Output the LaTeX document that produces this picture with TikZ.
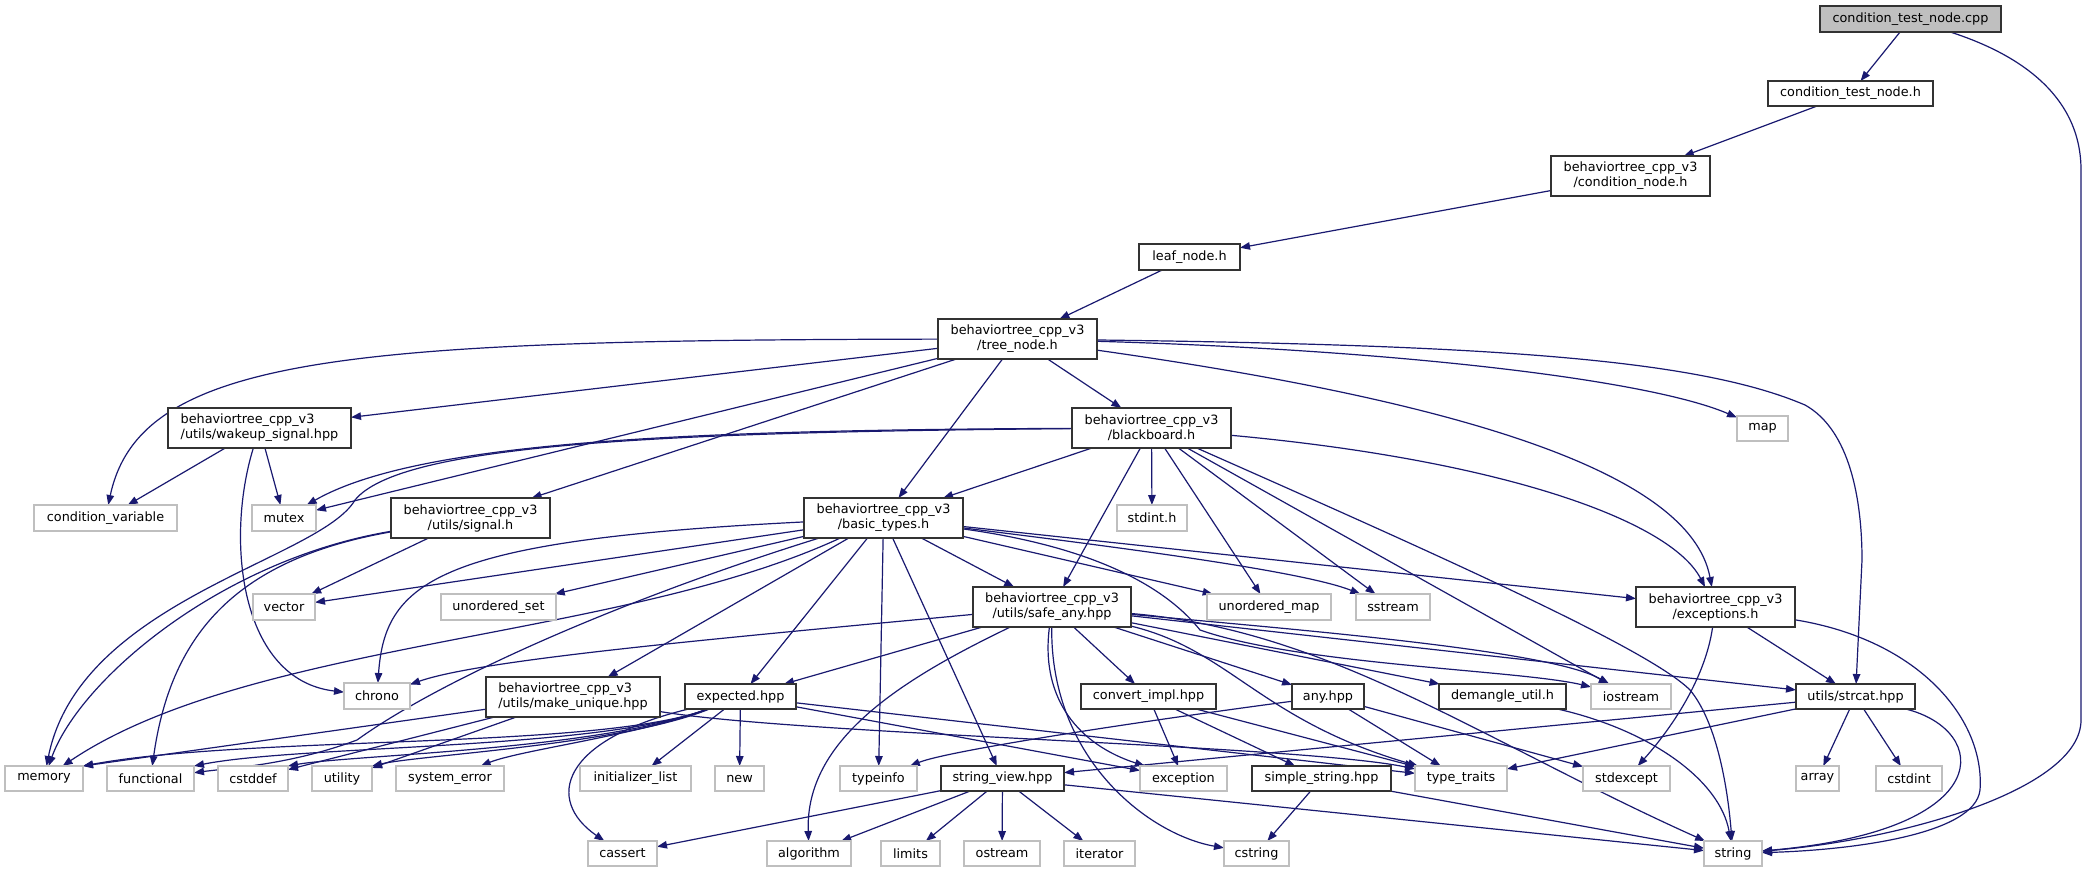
\documentclass[tikz,border=0pt]{standalone}
\usepackage{fontspec}
\setmainfont{DejaVu Sans}
\usetikzlibrary{arrows.meta}
\pgfdeclarelayer{back}
\pgfdeclarelayer{bg}
\pgfsetlayers{back,bg,main}
\definecolor{edgecol}{HTML}{191970}
\definecolor{grayline}{HTML}{BFBFBF}
\definecolor{docline}{HTML}{333333}
\begin{document}
\begin{tikzpicture}[x=1pt,y=-1pt,
  box/.style={rectangle,inner sep=0pt,outer sep=0pt,line width=1.2pt,font=\fontsize{12.8}{15}\selectfont,align=center},
  doc/.style={box,draw=docline,fill=white},
  sys/.style={box,draw=grayline,fill=white},
  root/.style={box,draw=docline,fill=grayline},
  bw/.style={minimum width=#1pt},
  bh/.style={minimum height=#1pt},
  edge/.style={draw=edgecol,line width=1.2pt,-{Triangle[length=10pt,width=7.5pt]}}
]
\useasboundingbox (0,0) rectangle (2087,872);
\begin{pgfonlayer}{back}
\fill[white] (0,0) rectangle (2087,872);
\end{pgfonlayer}

% ---- documented / own headers
\node[root,bw=181,bh=26] (cpp) at (1910.5,19) {condition\_test\_node.cpp};
\node[doc,bw=165,bh=25] (ctnh) at (1850.5,93.5) {condition\_test\_node.h};
\node[doc,bw=159,bh=40] (cond) at (1630.5,176) {behaviortree\_cpp\_v3\\/condition\_node.h};
\node[doc,bw=101,bh=26] (leaf) at (1189.5,257) {leaf\_node.h};
\node[doc,bw=159,bh=40] (tree) at (1017.5,339) {behaviortree\_cpp\_v3\\/tree\_node.h};
\node[doc,bw=159,bh=40] (blackboard) at (1151.5,428) {behaviortree\_cpp\_v3\\/blackboard.h};
\node[doc,bw=183,bh=40,align=left] (wakeup) at (259.5,428) {behaviortree\_cpp\_v3\\/utils/wakeup\_signal.hpp};
\node[doc,bw=159,bh=40] (signal) at (470.5,518) {behaviortree\_cpp\_v3\\/utils/signal.h};
\node[doc,bw=159,bh=40] (basic) at (883.5,518) {behaviortree\_cpp\_v3\\/basic\_types.h};
\node[doc,bw=158,bh=40] (safeany) at (1052,607) {behaviortree\_cpp\_v3\\/utils/safe\_any.hpp};
\node[doc,bw=159,bh=40] (exceptions) at (1715.5,607) {behaviortree\_cpp\_v3\\/exceptions.h};
\node[doc,bw=174,bh=40,align=left] (makeunique) at (573,697) {behaviortree\_cpp\_v3\\/utils/make\_unique.hpp};
\node[doc,bw=111,bh=25] (expected) at (740.5,696.5) {expected.hpp};
\node[doc,bw=135,bh=25] (convert) at (1148.5,696.5) {convert\_impl.hpp};
\node[doc,bw=72,bh=25] (any) at (1328,696.5) {any.hpp};
\node[doc,bw=127,bh=25] (demangle) at (1502.5,696.5) {demangle\_util.h};
\node[doc,bw=119,bh=25] (strcat) at (1855.5,696.5) {utils/strcat.hpp};
\node[doc,bw=123,bh=25] (stringview) at (1002.5,778.5) {string\_view.hpp};
\node[doc,bw=139,bh=25] (simplestring) at (1321.5,778.5) {simple\_string.hpp};

% ---- system headers
\node[sys,bw=51,bh=25] (map) at (1762.5,428.5) {map};
\node[sys,bw=143,bh=26] (condvar) at (105.5,518) {condition\_variable};
\node[sys,bw=64,bh=26] (mutex) at (284,518) {mutex};
\node[sys,bw=70,bh=26] (stdinth) at (1152,518) {stdint.h};
\node[sys,bw=62,bh=26] (vector) at (284,607) {vector};
\node[sys,bw=115,bh=26] (uset) at (498.5,607) {unordered\_set};
\node[sys,bw=124,bh=26] (umap) at (1269,607) {unordered\_map};
\node[sys,bw=74,bh=26] (sstream) at (1393,607) {sstream};
\node[sys,bw=66,bh=26] (chrono) at (377,696) {chrono};
\node[sys,bw=80,bh=25] (iostream) at (1631,696.5) {iostream};
\node[sys,bw=78,bh=25] (memory) at (44,778.5) {memory};
\node[sys,bw=87,bh=25] (functional) at (150.5,778.5) {functional};
\node[sys,bw=70,bh=25] (cstddef) at (253,778.5) {cstddef};
\node[sys,bw=60,bh=25] (utility) at (342,778.5) {utility};
\node[sys,bw=108,bh=25] (systemerror) at (450,778.5) {system\_error};
\node[sys,bw=111,bh=25] (initlist) at (635.5,778.5) {initializer\_list};
\node[sys,bw=49,bh=25] (new) at (739.5,778.5) {new};
\node[sys,bw=77,bh=25] (typeinfo) at (878.5,778.5) {typeinfo};
\node[sys,bw=87,bh=25] (exception) at (1183.5,778.5) {exception};
\node[sys,bw=92,bh=25] (typetraits) at (1461,778.5) {type\_traits};
\node[sys,bw=87,bh=25] (stdexcept) at (1626.5,778.5) {stdexcept};
\node[sys,bw=43,bh=25] (array) at (1817.5,778.5) {array};
\node[sys,bw=66,bh=25] (cstdint) at (1909,778.5) {cstdint};
\node[sys,bw=69,bh=25] (cassert) at (622.5,853.5) {cassert};
\node[sys,bw=84,bh=25] (algorithm) at (809,853.5) {algorithm};
\node[sys,bw=59,bh=25] (limits) at (910.5,853.5) {limits};
\node[sys,bw=76,bh=25] (ostream) at (1002,853.5) {ostream};
\node[sys,bw=71,bh=25] (iterator) at (1099.5,853.5) {iterator};
\node[sys,bw=65,bh=25] (cstring) at (1256.5,853.5) {cstring};
\node[sys,bw=58,bh=25] (string) at (1733,853.5) {string};

\coordinate (trA) at (1805,405);
\coordinate (trB) at (1862,560);

\begin{pgfonlayer}{bg}
% top chain
\draw[edge] (cpp) -- (ctnh);
\draw[edge] (cpp) .. controls (1990,45) and (2081,80) .. (2081,170) -- (2081,720) .. controls (2081,790) and (1900,840) .. (string);
\draw[edge] (ctnh) -- (cond);
\draw[edge] (cond) -- (leaf);
\draw[edge] (leaf) -- (tree);
% tree_node.h
\draw[edge] (tree) .. controls (350,340) and (140,355) .. (condvar);
\draw[edge] (tree) -- (wakeup);
\draw[edge] (tree) -- (mutex);
\draw[edge] (tree) -- (signal);
\draw[edge] (tree) -- (basic);
\draw[edge] (tree) -- (blackboard);
\draw[edge] (tree) .. controls (1450,400) and (1690,470) .. (exceptions);
\draw[edge] (tree) .. controls (1400,350) and (1650,380) .. (map);
\draw[edge] (tree) .. controls (1500,345) and (1700,360) .. (trA) .. controls (1850,430) and (1862,500) .. (trB) -- (strcat);
% wakeup_signal.hpp
\draw[edge] (wakeup) -- (condvar);
\draw[edge] (wakeup) -- (mutex);
\draw[edge] (wakeup) .. controls (225,540) and (240,680) .. (chrono);
% blackboard.h
\draw[edge] (blackboard) .. controls (700,430) and (420,440) .. (mutex);
\draw[edge] (blackboard) .. controls (650,432) and (400,445) .. (355,500) .. controls (320,560) and (80,600) .. (memory);
\draw[edge] (blackboard) -- (basic);
\draw[edge] (blackboard) -- (safeany);
\draw[edge] (blackboard) -- (stdinth);
\draw[edge] (blackboard) -- (umap);
\draw[edge] (blackboard) -- (sstream);
\draw[edge] (blackboard) -- (iostream);
\draw[edge] (blackboard) .. controls (1450,560) and (1650,650) .. (1690,690) .. controls (1715,720) and (1727,780) .. (string);
\draw[edge] (blackboard) .. controls (1500,460) and (1670,520) .. (exceptions);
% signal.h
\draw[edge] (signal) -- (vector);
\draw[edge] (signal) .. controls (220,560) and (80,680) .. (memory);
\draw[edge] (signal) .. controls (230,560) and (170,640) .. (functional);
% basic_types.h
\draw[edge] (basic) .. controls (1080,545) and (1160,580) .. (1200,630) .. controls (1300,665) and (1520,670) .. (iostream);
\draw[edge] (basic) -- (vector);
\draw[edge] (basic) .. controls (1100,545) and (1300,570) .. (sstream);
\draw[edge] (basic) -- (umap);
\draw[edge] (basic) -- (uset);
\draw[edge] (basic) -- (typeinfo);
\draw[edge] (basic) .. controls (620,600) and (440,680) .. (357,740) .. controls (290,765) and (230,768) .. (functional);
\draw[edge] (basic) .. controls (440,540) and (385,580) .. (chrono);
\draw[edge] (basic) .. controls (620,640) and (250,640) .. (memory);
\draw[edge] (basic) -- (stringview);
\draw[edge] (basic) -- (safeany);
\draw[edge] (basic) -- (exceptions);
\draw[edge] (basic) -- (expected);
\draw[edge] (basic) -- (makeunique);
% safe_any.hpp
\draw[edge] (safeany) .. controls (700,640) and (480,660) .. (chrono);
\draw[edge] (safeany) -- (expected);
\draw[edge] (safeany) .. controls (900,680) and (805,740) .. (algorithm);
\draw[edge] (safeany) .. controls (1040,700) and (1080,745) .. (exception);
\draw[edge] (safeany) .. controls (1050,760) and (1150,835) .. (cstring);
\draw[edge] (safeany) -- (convert);
\draw[edge] (safeany) -- (any);
\draw[edge] (safeany) -- (demangle);
\draw[edge] (safeany) .. controls (1300,630) and (1550,650) .. (iostream);
\draw[edge] (safeany) .. controls (1230,650) and (1260,720) .. (typetraits);
\draw[edge] (safeany) -- (strcat);
\draw[edge] (safeany) .. controls (1330,630) and (1480,740) .. (string);
% any.hpp
\draw[edge] (any) .. controls (1150,720) and (950,750) .. (typeinfo);
\draw[edge] (any) -- (typetraits);
\draw[edge] (any) -- (stdexcept);
% demangle_util.h
\draw[edge] (demangle) .. controls (1650,730) and (1720,780) .. (string);
% convert_impl.hpp
\draw[edge] (convert) -- (exception);
\draw[edge] (convert) -- (simplestring);
\draw[edge] (convert) -- (typetraits);
% simple_string.hpp
\draw[edge] (simplestring) -- (cstring);
\draw[edge] (simplestring) -- (string);
% string_view.hpp
\draw[edge] (stringview) -- (cassert);
\draw[edge] (stringview) -- (algorithm);
\draw[edge] (stringview) -- (limits);
\draw[edge] (stringview) -- (ostream);
\draw[edge] (stringview) -- (iterator);
\draw[edge] (stringview) -- (string);
% expected.hpp
\draw[edge] (expected) .. controls (600,750) and (250,735) .. (memory.north east);
\draw[edge] (expected) .. controls (600,750) and (300,745) .. (functional.north east);
\draw[edge] (expected) .. controls (600,750) and (350,755) .. (cstddef.north east);
\draw[edge] (expected) .. controls (620,745) and (420,755) .. (utility.north east);
\draw[edge] (expected) .. controls (640,735) and (520,750) .. (systemerror);
\draw[edge] (expected) -- (initlist);
\draw[edge] (expected) -- (new);
\draw[edge] (expected) .. controls (560,740) and (545,800) .. (cassert);
\draw[edge] (expected) -- (exception);
\draw[edge] (expected) -- (typetraits);
% make_unique.hpp
\draw[edge] (makeunique) -- (memory.north east);
\draw[edge] (makeunique) -- (cstddef);
\draw[edge] (makeunique) -- (utility);
\draw[edge] (makeunique) .. controls (800,735) and (1300,745) .. (typetraits);
% exceptions.h
\draw[edge] (exceptions) .. controls (1705,680) and (1670,730) .. (stdexcept);
\draw[edge] (exceptions) -- (strcat);
\draw[edge] (exceptions) .. controls (1920,640) and (1985,720) .. (1980,790) .. controls (1975,835) and (1850,850) .. (string);
% strcat.hpp
\draw[edge] (strcat) -- (stringview);
\draw[edge] (strcat) -- (typetraits);
\draw[edge] (strcat) -- (array);
\draw[edge] (strcat) -- (cstdint);
\draw[edge] (strcat) .. controls (1990,730) and (2000,830) .. (string);
\end{pgfonlayer}
\end{tikzpicture}
\end{document}
